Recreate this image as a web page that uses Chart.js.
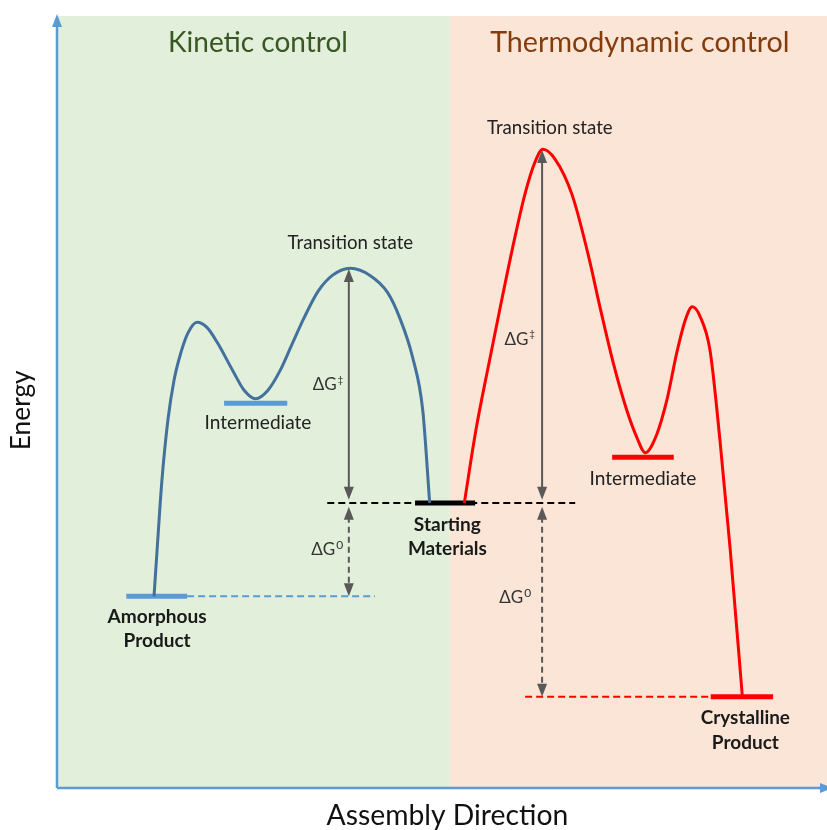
<!DOCTYPE html>
<html>
<head>
<meta charset="utf-8">
<script src="https://cdn.jsdelivr.net/npm/chart.js"></script>
<style>
  body { margin: 0; background: #fff; }
  #wrap { width: 827px; height: 830px; }
</style>
</head>
<body>
<div id="wrap"><canvas id="energyChart"></canvas></div>
<script>
// reaction coordinate 0-100, energy 0-100
const kineticX = [12.6, 13.0, 13.6, 14.4, 15.2, 16.1, 17.0, 18.2, 19.5, 20.8, 22.9, 24.3, 25.8, 27.4, 29.0, 30.5, 32.1, 33.9, 35.8, 38.1, 40.6, 42.9, 44.5, 46.2, 47.5, 48.4];
const kineticY = [24.7, 30.7, 39.4, 47.5, 52.7, 56.3, 58.8, 60.2, 59.5, 57.6, 53.8, 51.4, 50.3, 51.4, 54.0, 57.3, 60.8, 64.2, 66.3, 67.2, 66.3, 64.1, 60.8, 55.6, 48.8, 36.8];
const thermoX = [52.9, 54.4, 56.1, 57.8, 59.4, 60.8, 62.1, 63.1, 64.7, 66.9, 69.0, 70.6, 72.3, 74.0, 75.3, 76.4, 77.9, 79.2, 80.5, 81.6, 82.5, 83.5, 84.8, 86.1, 87.4, 89.0];
const thermoY = [36.8, 46.2, 54.9, 63.3, 70.9, 76.9, 81.0, 82.6, 81.3, 76.7, 68.9, 61.8, 54.7, 48.8, 45.3, 43.3, 45.7, 50.1, 56.3, 60.5, 62.2, 61.0, 56.6, 44.9, 31.1, 11.8];

// energy levels (short bars)
const levelStart = [9.0, 21.7, 46.5, 72.1, 84.9];
const levelEnd = [16.9, 29.9, 54.3, 80.1, 93.0];
const levelEnergy = [24.7, 49.7, 36.8, 42.7, 11.7];
const levelColors = ['#5B9BD5', '#5B9BD5', '#000000', '#FF0000', '#FF0000'];

// dashed reference lines
const refStart = [35.1, 16.9, 60.8];
const refEnd = [67.3, 41.3, 84.9];
const refEnergy = [36.8, 24.7, 11.7];
const refColors = ['#000000', '#5B9BD5', '#FF0000'];

// delta G arrows
const arrowX = [37.9, 37.9, 63.0, 63.0];
const arrowFrom = [37.2, 36.3, 37.2, 36.3];
const arrowTo = [67.1, 24.7, 82.5, 11.7];
const arrowDashed = [false, true, false, true];

// shaded regions
const regionNames = ['Kinetic control', 'Thermodynamic control'];
const regionStart = [0, 51.0];
const regionEnd = [51.0, 100];

const FONT = 'Lato, "Open Sans", sans-serif';

function fitFont(ctx, text, width, weight) {
  ctx.font = weight + ' 20px ' + FONT;
  const size = 20 * width / ctx.measureText(text).width;
  return weight + ' ' + size.toFixed(1) + 'px ' + FONT;
}

function arrowHead(ctx, x, y, dir) {
  ctx.beginPath();
  ctx.moveTo(x, y);
  ctx.lineTo(x - 5, y - dir * 13);
  ctx.lineTo(x + 5, y - dir * 13);
  ctx.closePath();
  ctx.fill();
}

const diagramPlugin = {
  id: 'diagram',
  beforeDatasetsDraw(chart) {
    const { ctx, chartArea: a, scales: { x, y } } = chart;
    ctx.save();
    const fills = ['#E2EFDA', '#FBE5D6'];
    regionNames.forEach((n, i) => {
      const x0 = x.getPixelForValue(regionStart[i]);
      const x1 = x.getPixelForValue(regionEnd[i]);
      ctx.fillStyle = fills[i];
      ctx.fillRect(x0, a.top + 1, x1 - x0, a.bottom - a.top);
    });

    // axes
    ctx.strokeStyle = '#5B9BD5';
    ctx.fillStyle = '#5B9BD5';
    ctx.lineWidth = 2.5;
    ctx.beginPath();
    ctx.moveTo(a.left, a.bottom + 1);
    ctx.lineTo(a.left, a.top + 8);
    ctx.moveTo(a.left, a.bottom + 1);
    ctx.lineTo(a.right, a.bottom + 1);
    ctx.stroke();
    ctx.beginPath();
    ctx.moveTo(a.left, a.top - 1);
    ctx.lineTo(a.left - 5, a.top + 12);
    ctx.lineTo(a.left + 5, a.top + 12);
    ctx.closePath();
    ctx.fill();
    ctx.beginPath();
    ctx.moveTo(a.right + 6, a.bottom + 1);
    ctx.lineTo(a.right - 7, a.bottom - 4);
    ctx.lineTo(a.right - 7, a.bottom + 6);
    ctx.closePath();
    ctx.fill();
    ctx.restore();
  },
  afterDatasetsDraw(chart) {
    const { ctx, chartArea: a, scales: { x, y } } = chart;
    ctx.save();

    // arrows
    ctx.strokeStyle = '#595959';
    ctx.fillStyle = '#595959';
    ctx.lineWidth = 2;
    arrowX.forEach((xv, i) => {
      const px = x.getPixelForValue(xv);
      const p0 = y.getPixelForValue(arrowFrom[i]);
      const p1 = y.getPixelForValue(arrowTo[i]);
      const dir = p1 < p0 ? -1 : 1;
      ctx.setLineDash(arrowDashed[i] ? [6, 4] : []);
      ctx.beginPath();
      ctx.moveTo(px, p0 + dir * 10);
      ctx.lineTo(px, p1 - dir * 10);
      ctx.stroke();
      ctx.setLineDash([]);
      arrowHead(ctx, px, p1, dir);
      arrowHead(ctx, px, p0, -dir);
    });

    // labels
    ctx.textAlign = 'center';
    ctx.textBaseline = 'middle';
    const labels = [
      ['Kinetic control', 26.1, 96.4, 180, 'normal', '#385723'],
      ['Thermodynamic control', 75.7, 96.4, 300, 'normal', '#843C0C'],
      ['Transition state', 38.1, 70.5, 126, 'normal', '#222'],
      ['Transition state', 64.0, 85.4, 126, 'normal', '#222'],
      ['Intermediate', 26.1, 47.2, 107, 'normal', '#222'],
      ['Intermediate', 76.1, 39.9, 107, 'normal', '#222'],
      ['Starting', 50.7, 33.9, 67, 'bold', '#1a1a1a'],
      ['Materials', 50.7, 30.9, 79, 'bold', '#1a1a1a'],
      ['Amorphous', 13.0, 22.0, 99, 'bold', '#1a1a1a'],
      ['Product', 13.0, 18.9, 67, 'bold', '#1a1a1a'],
      ['Crystalline', 89.4, 9.0, 89, 'bold', '#1a1a1a'],
      ['Product', 89.4, 5.7, 67, 'bold', '#1a1a1a']
    ];
    labels.forEach(([t, xv, yv, w, wt, c]) => {
      ctx.font = fitFont(ctx, t, w, wt);
      ctx.fillStyle = c;
      ctx.fillText(t, x.getPixelForValue(xv), y.getPixelForValue(yv));
    });

    // delta G symbols
    const dg = [['\u2021', 35.2, 52.1], ['0', 35.1, 30.7], ['\u2021', 60.1, 58.0], ['0', 59.5, 24.5]];
    dg.forEach(([sup, xv, yv]) => {
      const px = x.getPixelForValue(xv);
      const py = y.getPixelForValue(yv);
      const supFont = (sup === '0' ? '12px ' : '10px ') + FONT;
      ctx.font = '17px ' + FONT;
      const w1 = ctx.measureText('\u0394G').width;
      ctx.font = supFont;
      const w2 = ctx.measureText(sup).width;
      const left = px - (w1 + w2 + 1) / 2;
      ctx.fillStyle = '#333';
      ctx.textAlign = 'left';
      ctx.font = '17px ' + FONT;
      ctx.fillText('\u0394G', left, py);
      ctx.font = supFont;
      ctx.fillText(sup, left + w1 + 1, py - 5);
    });

    // axis titles
    ctx.textAlign = 'center';
    ctx.fillStyle = '#111';
    ctx.font = fitFont(ctx, 'Assembly Direction', 242, 'normal');
    ctx.fillText('Assembly Direction', x.getPixelForValue(50.7), a.bottom + 29);
    ctx.save();
    ctx.translate(22, y.getPixelForValue(48.8));
    ctx.rotate(-Math.PI / 2);
    ctx.font = fitFont(ctx, 'Energy', 80, 'normal');
    ctx.fillText('Energy', 0, 0);
    ctx.restore();
    ctx.restore();
  }
};

const datasets = [];
datasets.push({
  data: kineticX.map((v, i) => ({ x: v, y: kineticY[i] })),
  borderColor: '#41719C', borderWidth: 3, cubicInterpolationMode: 'monotone'
});
datasets.push({
  data: thermoX.map((v, i) => ({ x: v, y: thermoY[i] })),
  borderColor: '#FF0000', borderWidth: 3, cubicInterpolationMode: 'monotone'
});
levelEnergy.forEach((e, i) => {
  datasets.push({
    data: [{ x: levelStart[i], y: e }, { x: levelEnd[i], y: e }],
    borderColor: levelColors[i], borderWidth: 5
  });
});
refEnergy.forEach((e, i) => {
  datasets.push({
    data: [{ x: refStart[i], y: e }, { x: refEnd[i], y: e }],
    borderColor: refColors[i], borderWidth: 2, borderDash: [7, 4]
  });
});
datasets.forEach(d => { d.showLine = true; d.pointRadius = 0; d.fill = false; });

new Chart(document.getElementById('energyChart'), {
  type: 'scatter',
  data: { datasets },
  options: {
    responsive: true,
    maintainAspectRatio: false,
    animation: false,
    layout: { padding: { left: 57, right: 0, top: 15, bottom: 43 } },
    plugins: { legend: { display: false }, tooltip: { enabled: false } },
    scales: {
      x: { type: 'linear', min: 0, max: 100, display: false },
      y: { type: 'linear', min: 0, max: 100, display: false }
    }
  },
  plugins: [diagramPlugin]
});
</script>
</body>
</html>
